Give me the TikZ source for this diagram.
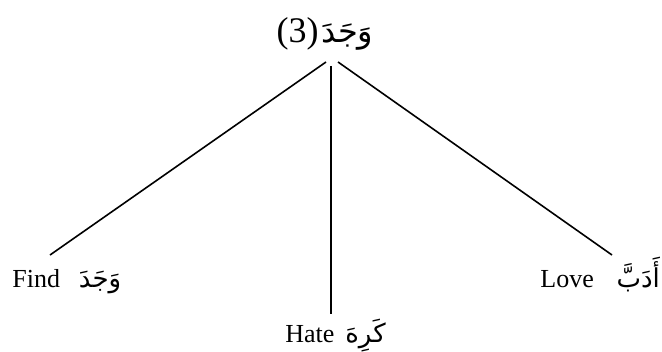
\documentclass[tikz,border=0pt]{standalone}
\usepackage{fontspec}
\setmainfont{Liberation Serif}
\newfontfamily\arabicfont[Script=Arabic]{DejaVu Sans}
\TeXXeTstate=1
\usetikzlibrary{positioning}

\begin{document}
\begin{tikzpicture}[x=0.5pt,y=-0.5pt,
      lbl/.style={font=\fontsize{13}{15}\selectfont,inner sep=0pt,anchor=base west},
      ar/.style={font=\arabicfont\fontsize{13}{16}\selectfont,inner sep=0pt,anchor=base west},
      branch/.style={line width=0.8pt,black}]
    \useasboundingbox (0,0) rectangle (662,352);
    \node[inner sep=0pt,anchor=base east,font=\fontsize{18}{21}\selectfont] (num) at (319,43) {(3)};
    \node[ar,font=\arabicfont\fontsize{16}{19}\selectfont,right=1pt of num.base east,anchor=base west] (root) {\beginR وَجَدَ\endR};
    \node[lbl] (find) at (12,287) {Find};
    \node[ar,right=9pt of find.base east,anchor=base west] (findar) {\beginR وَجَدَ\endR};
    \node[lbl] (hate) at (285,342) {Hate};
    \node[ar,right=5pt of hate.base east,anchor=base west] (hatear) {\beginR كَرِهَ\endR};
    \node[lbl] (love) at (540,287) {Love};
    \node[ar,right=11pt of love.base east,anchor=base west] (lovear) {\beginR أَدَبَّ\endR};
    \coordinate (apexl) at (326,62);
    \coordinate (apexm) at (331,66);
    \coordinate (apexr) at (338,62);
    \coordinate (findtip) at (50,255);
    \coordinate (hatetip) at (331,314);
    \coordinate (lovetip) at (612,255);
    \draw[branch] (apexl) -- (findtip);
    \draw[branch] (apexm) -- (hatetip);
    \draw[branch] (apexr) -- (lovetip);
  \end{tikzpicture}
\end{document}
